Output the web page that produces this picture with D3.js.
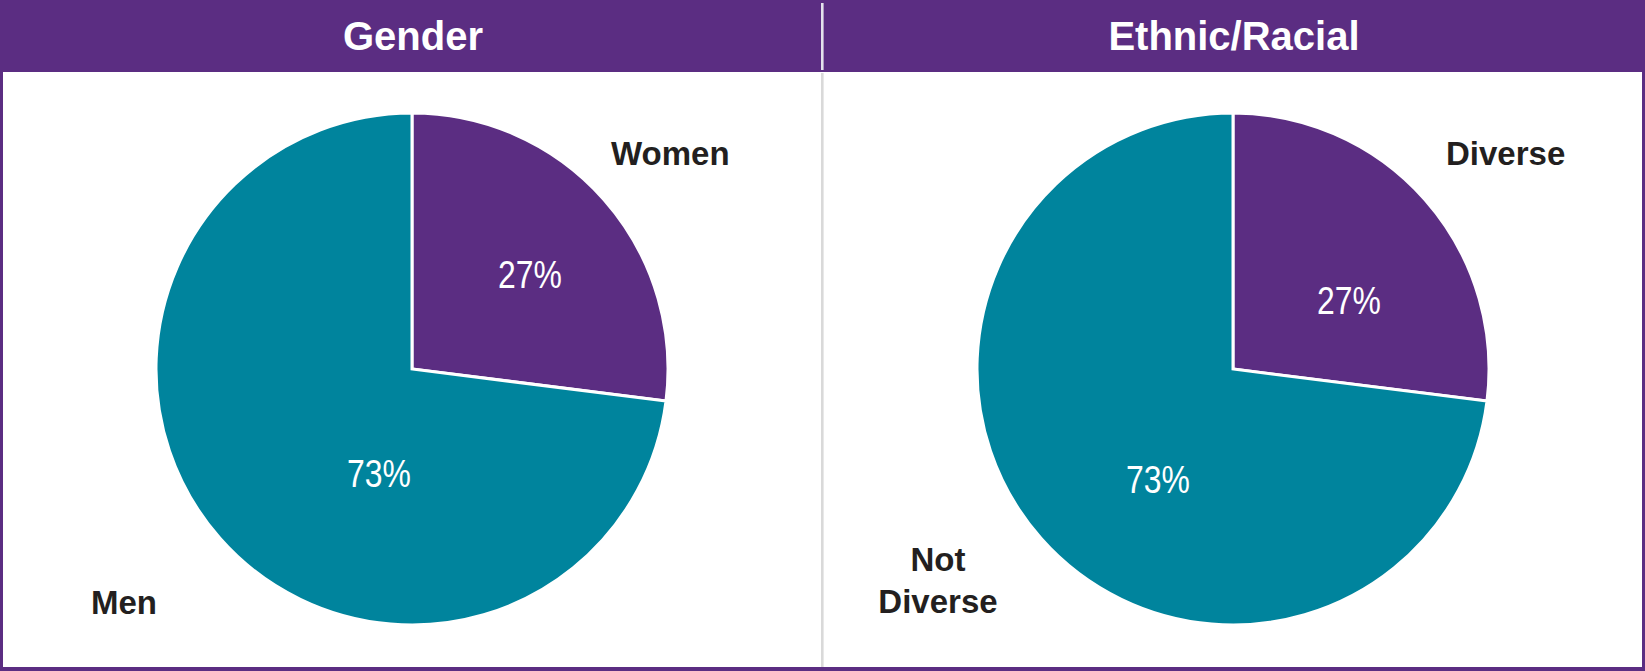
<!DOCTYPE html>
<html><head><meta charset="utf-8">
<script src="https://cdn.jsdelivr.net/npm/d3@7/dist/d3.min.js"></script>
<style>html,body{margin:0;padding:0;background:#fff;}svg{display:block;}</style>
</head><body>
<svg id="c" width="1645" height="671"></svg>
<script>
// ---- data ----
const panelTitles = ["Gender", "Ethnic/Racial"];
const genderCategories = ["Women", "Men"];
const genderValues = [27, 73];
const ethnicCategories = ["Diverse", "Not Diverse"];
const ethnicValues = [27, 73];
const percentLabels = [["27%", "73%"], ["27%", "73%"]];

// ---- layout / style ----
const W = 1645, H = 671;
const PURPLE = "#5b2d82", TEAL = "#00849d";
const headerH = 72, border = 3;
const radius = 256, cy = 369;
const panels = [
  {title: panelTitles[0], cats: genderCategories, vals: genderValues, pct: percentLabels[0],
   cx: 412,
   pctPos: [[118, -95], [-33, 104]],
   catLayout: [{x: 611, ys: [153], anchor: "start"}, {x: 91, ys: [602], anchor: "start"}]},
  {title: panelTitles[1], cats: ethnicCategories, vals: ethnicValues, pct: percentLabels[1],
   cx: 1233,
   pctPos: [[116, -69], [-75, 110]],
   catLayout: [{x: 1446, ys: [153], anchor: "start"}, {x: 938, ys: [559, 601], anchor: "middle", lines: ["Not", "Diverse"]}]}
];
const colors = d3.scaleOrdinal().domain([0, 1]).range([PURPLE, TEAL]);

const svg = d3.select("#c");
// frame
svg.append("rect").attr("x", 0).attr("y", 0).attr("width", W).attr("height", H).attr("fill", PURPLE);
svg.append("rect").attr("x", border).attr("y", headerH).attr("width", W - 2 * border).attr("height", H - headerH - 4).attr("fill", "#fff");
// divider
svg.append("rect").attr("x", 821).attr("y", 3).attr("width", 2.6).attr("height", headerH - 5).attr("fill", "#e4e2ec");
svg.append("rect").attr("x", 821).attr("y", headerH + 1).attr("width", 2.6).attr("height", H - headerH - 5).attr("fill", "#d9d9d9");

const pie = d3.pie().sort(null).value(d => d);
const arc = d3.arc().innerRadius(0).outerRadius(radius);

panels.forEach(p => {
  svg.append("text").attr("x", p.cx + 1).attr("y", 50)
    .attr("text-anchor", "middle").attr("fill", "#fff")
    .attr("font-family", "Liberation Sans, Arial, sans-serif").attr("font-weight", "bold")
    .attr("font-size", 40).text(p.title);

  const g = svg.append("g").attr("transform", `translate(${p.cx},${cy})`);
  const arcs = pie(p.vals);
  g.selectAll("path").data(arcs).join("path")
    .attr("d", arc).attr("fill", (d, i) => colors(i))
    .attr("stroke", "#fff").attr("stroke-width", 3).attr("stroke-linejoin", "miter");

  arcs.forEach((a, i) => {
    const [dx, dy] = p.pctPos[i];
    g.append("text")
      .attr("transform", `translate(${dx},${dy}) scale(0.84,1)`)
      .attr("text-anchor", "middle").attr("dominant-baseline", "central")
      .attr("fill", "#fff").attr("font-family", "Liberation Sans, Arial, sans-serif")
      .attr("font-size", 38).text(p.pct[i]);
  });

  p.cats.forEach((c, i) => {
    const L = p.catLayout[i];
    const lines = L.lines || [c];
    lines.forEach((ln, k) => {
      svg.append("text").attr("x", L.x).attr("y", L.ys[k])
        .attr("text-anchor", L.anchor).attr("dominant-baseline", "central")
        .attr("fill", "#231f20").attr("font-family", "Liberation Sans, Arial, sans-serif")
        .attr("font-weight", "bold").attr("font-size", 33).text(ln);
    });
  });
});
</script>
</body></html>
